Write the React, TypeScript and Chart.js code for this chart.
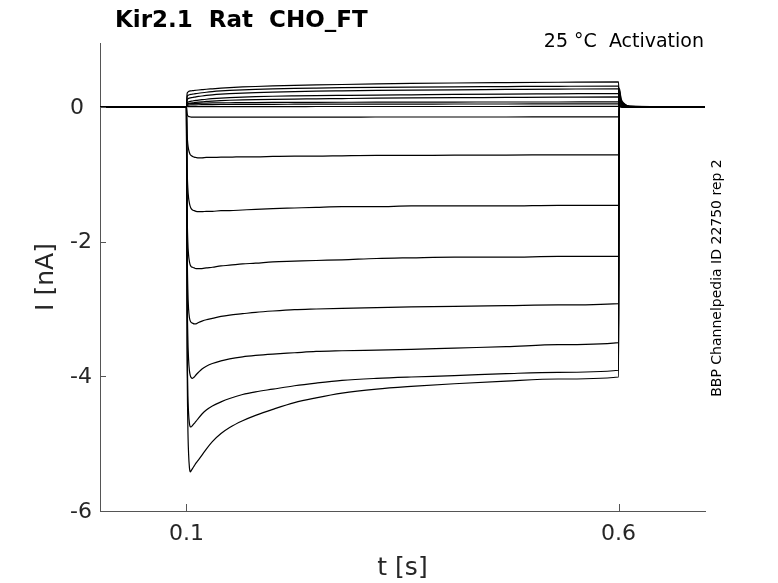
import React, { useEffect, useRef } from "react";
import { Chart, registerables } from "chart.js";

Chart.register(...registerables);

// time samples [s]
const times = [
  0, 0.1, 0.1008, 0.1016, 0.1025, 0.1035, 0.1045, 0.1055, 0.107, 0.109,
  0.111, 0.114, 0.118, 0.123, 0.13, 0.14, 0.15, 0.165, 0.18, 0.2,
  0.225, 0.25, 0.28, 0.32, 0.36, 0.41, 0.47, 0.53, 0.6, 0.6008,
  0.603, 0.607, 0.613, 0.7,
];

// current traces [nA], one per voltage step
const trace01 = [0, 0, 0.2, 0.22, 0.23, 0.235, 0.238, 0.24, 0.242, 0.245, 0.248, 0.252, 0.257, 0.263, 0.27, 0.28, 0.288, 0.297, 0.304, 0.312, 0.32, 0.327, 0.334, 0.342, 0.349, 0.356, 0.362, 0.367, 0.372, 0.03, 0.01, 0, 0, 0];
const trace02 = [0, 0, 0.15, 0.17, 0.178, 0.182, 0.185, 0.188, 0.19, 0.194, 0.198, 0.204, 0.211, 0.219, 0.228, 0.238, 0.246, 0.255, 0.262, 0.269, 0.276, 0.281, 0.286, 0.291, 0.295, 0.299, 0.303, 0.307, 0.31, 0.02, 0.005, 0, 0, 0];
const trace03 = [0, 0, 0.1, 0.12, 0.128, 0.132, 0.135, 0.138, 0.141, 0.145, 0.15, 0.156, 0.163, 0.171, 0.18, 0.19, 0.198, 0.207, 0.214, 0.221, 0.228, 0.234, 0.239, 0.245, 0.25, 0.255, 0.26, 0.265, 0.27, 0.02, 0.005, 0, 0, 0];
const trace04 = [0, 0, 0.06, 0.07, 0.076, 0.08, 0.083, 0.086, 0.089, 0.093, 0.097, 0.102, 0.108, 0.115, 0.123, 0.132, 0.139, 0.147, 0.153, 0.159, 0.164, 0.168, 0.172, 0.177, 0.181, 0.186, 0.191, 0.195, 0.2, 0.02, 0.005, 0, 0, 0];
const trace05 = [0, 0, 0.04, 0.048, 0.052, 0.055, 0.057, 0.059, 0.061, 0.064, 0.067, 0.071, 0.076, 0.082, 0.088, 0.095, 0.1, 0.106, 0.11, 0.114, 0.118, 0.121, 0.125, 0.13, 0.134, 0.138, 0.142, 0.146, 0.15, 0.02, 0.005, 0, 0, 0];
const trace06 = [0, 0, 0.03, 0.04, 0.045, 0.047, 0.048, 0.049, 0.05, 0.051, 0.052, 0.054, 0.056, 0.058, 0.06, 0.062, 0.063, 0.065, 0.066, 0.067, 0.068, 0.069, 0.07, 0.071, 0.072, 0.073, 0.074, 0.074, 0.075, 0.015, 0.004, 0, 0, 0];
const trace07 = [0, 0, 0.02, 0.026, 0.028, 0.029, 0.03, 0.03, 0.031, 0.031, 0.032, 0.033, 0.034, 0.035, 0.036, 0.037, 0.038, 0.039, 0.04, 0.04, 0.041, 0.042, 0.042, 0.043, 0.043, 0.044, 0.044, 0.045, 0.045, 0.012, 0.003, 0, 0, 0];
const trace08 = [0, 0, 0.003, 0.004, 0.004, 0.005, 0.005, 0.005, 0.005, 0.005, 0.005, 0.005, 0.005, 0.005, 0.006, 0.006, 0.006, 0.006, 0.006, 0.006, 0.006, 0.007, 0.007, 0.007, 0.007, 0.007, 0.007, 0.008, 0.008, 0.01, 0.003, 0, 0, 0];
const trace09 = [0, 0, -0.1, -0.13, -0.14, -0.145, -0.148, -0.15, -0.15, -0.151, -0.151, -0.152, -0.152, -0.152, -0.152, -0.152, -0.151, -0.151, -0.151, -0.15, -0.15, -0.15, -0.15, -0.149, -0.149, -0.149, -0.149, -0.148, -0.148, 0.02, 0.008, 0.003, 0, 0];
const trace10 = [0, 0, -0.4, -0.55, -0.63, -0.68, -0.71, -0.72, -0.735, -0.745, -0.75, -0.755, -0.755, -0.75, -0.75, -0.745, -0.745, -0.74, -0.74, -0.735, -0.73, -0.73, -0.725, -0.72, -0.72, -0.715, -0.715, -0.71, -0.71, 0.05, 0.02, 0.008, 0.002, 0];
const trace11 = [0, 0, -0.9, -1.2, -1.35, -1.43, -1.48, -1.51, -1.53, -1.54, -1.55, -1.555, -1.555, -1.55, -1.55, -1.54, -1.54, -1.53, -1.52, -1.51, -1.5, -1.49, -1.48, -1.48, -1.47, -1.47, -1.47, -1.46, -1.46, 0.09, 0.04, 0.014, 0.004, 0];
const trace12 = [0, 0, -1.5, -2.0, -2.2, -2.3, -2.35, -2.37, -2.38, -2.39, -2.4, -2.4, -2.4, -2.39, -2.38, -2.36, -2.35, -2.33, -2.32, -2.3, -2.29, -2.28, -2.27, -2.25, -2.24, -2.23, -2.23, -2.22, -2.22, 0.13, 0.055, 0.02, 0.005, 0];
const trace13 = [0, 0, -2.0, -2.7, -3.0, -3.13, -3.18, -3.2, -3.21, -3.22, -3.22, -3.2, -3.18, -3.16, -3.14, -3.11, -3.09, -3.07, -3.05, -3.03, -3.01, -3.0, -2.99, -2.98, -2.97, -2.96, -2.95, -2.94, -2.92, 0.17, 0.07, 0.025, 0.006, 0];
const trace14 = [0, 0, -2.6, -3.4, -3.75, -3.92, -3.99, -4.02, -4.03, -4.01, -3.98, -3.94, -3.89, -3.85, -3.81, -3.77, -3.74, -3.71, -3.69, -3.67, -3.65, -3.63, -3.62, -3.61, -3.6, -3.58, -3.56, -3.53, -3.5, 0.21, 0.085, 0.03, 0.008, 0];
const trace15 = [0, 0, -3.3, -4.2, -4.55, -4.7, -4.75, -4.75, -4.73, -4.7, -4.67, -4.62, -4.56, -4.5, -4.44, -4.38, -4.33, -4.27, -4.23, -4.19, -4.14, -4.1, -4.06, -4.03, -4.01, -3.99, -3.96, -3.94, -3.91, 0.25, 0.1, 0.038, 0.01, 0];
const trace16 = [0, 0, -3.6, -4.7, -5.15, -5.36, -5.42, -5.4, -5.37, -5.33, -5.29, -5.24, -5.17, -5.08, -4.97, -4.85, -4.76, -4.66, -4.58, -4.49, -4.39, -4.32, -4.25, -4.19, -4.15, -4.11, -4.07, -4.04, -4.01, 0.28, 0.12, 0.045, 0.012, 0];

const traces = [
  trace01, trace02, trace03, trace04, trace05, trace06, trace07, trace08,
  trace09, trace10, trace11, trace12, trace13, trace14, trace15, trace16,
];

const xTicks = [0.1, 0.6];
const yTicks = [0, -2, -4, -6];

const titleText = "Kir2.1  Rat  CHO_FT";
const conditionText = "25 °C  Activation";
const sourceText = "BBP Channelpedia ID 22750 rep 2";
const xTitle = "t [s]";
const yTitle = "I [nA]";

const FONT = "DejaVu Sans";
const AXIS_COLOR = "#555555";
const TEXT_COLOR = "#262626";

const decorPlugin = {
  id: "decor",
  afterDraw(chart: any) {
    const { ctx, chartArea, scales } = chart;
    ctx.save();
    ctx.strokeStyle = AXIS_COLOR;
    ctx.lineWidth = 1;
    yTicks.forEach((v) => {
      const y = Math.round(scales.y.getPixelForValue(v)) + 0.5;
      ctx.beginPath();
      ctx.moveTo(chartArea.left, y);
      ctx.lineTo(chartArea.left + 6, y);
      ctx.stroke();
    });
    xTicks.forEach((v) => {
      const x = Math.round(scales.x.getPixelForValue(v)) + 0.5;
      ctx.beginPath();
      ctx.moveTo(x, chartArea.bottom);
      ctx.lineTo(x, chartArea.bottom - 7);
      ctx.stroke();
    });

    ctx.fillStyle = "#000000";
    ctx.textBaseline = "alphabetic";
    ctx.textAlign = "left";
    ctx.font = `bold 23px "${FONT}"`;
    ctx.fillText(titleText, 115, 27);

    ctx.textAlign = "right";
    ctx.font = `19px "${FONT}"`;
    ctx.fillText(conditionText, chartArea.right - 1, 47);

    ctx.translate(721, 278);
    ctx.rotate(-Math.PI / 2);
    ctx.textAlign = "center";
    ctx.font = `14px "${FONT}"`;
    ctx.fillText(sourceText, 0, 0);
    ctx.restore();
  },
};

export default function App() {
  const canvasRef = useRef<HTMLCanvasElement | null>(null);

  useEffect(() => {
    if (!canvasRef.current) return;
    Chart.defaults.font.family = FONT;
    const chart = new Chart(canvasRef.current, {
      type: "line",
      data: {
        datasets: traces.map((vals) => ({
          data: times.map((t, i) => ({ x: t, y: vals[i] })),
          borderColor: "#000000",
          borderWidth: 1.2,
          pointRadius: 0,
          fill: false,
          cubicInterpolationMode: "monotone" as const,
        })),
      },
      options: {
        animation: false,
        responsive: false,
        maintainAspectRatio: false,
        layout: { padding: { left: 70, right: 73, top: 43, bottom: 0 } },
        plugins: {
          legend: { display: false },
          tooltip: { enabled: false },
          title: { display: false },
        },
        scales: {
          x: {
            type: "linear",
            min: 0,
            max: 0.7,
            afterBuildTicks: (s: any) => {
              s.ticks = xTicks.map((v) => ({ value: v }));
            },
            afterFit: (s: any) => {
              s.height = 72;
            },
            grid: { display: false, drawTicks: false },
            border: { display: true, color: AXIS_COLOR, width: 1 },
            ticks: {
              color: TEXT_COLOR,
              font: { family: FONT, size: 22 },
              padding: 10,
              maxRotation: 0,
              autoSkip: false,
              callback: (v: any) => String(v),
            },
            title: {
              display: true,
              text: xTitle,
              color: TEXT_COLOR,
              font: { family: FONT, size: 25 },
              padding: { top: 0, bottom: 0 },
            },
          },
          y: {
            type: "linear",
            min: -6,
            max: 0.95,
            afterBuildTicks: (s: any) => {
              s.ticks = yTicks.map((v) => ({ value: v }));
            },
            afterFit: (s: any) => {
              s.width = 30;
            },
            grid: { display: false, drawTicks: false },
            border: { display: true, color: AXIS_COLOR, width: 1 },
            ticks: {
              color: TEXT_COLOR,
              font: { family: FONT, size: 22 },
              padding: 7,
              crossAlign: "far",
              labelOffset: 1,
              autoSkip: false,
              callback: (v: any) => String(v),
            },
            title: {
              display: true,
              text: yTitle,
              color: TEXT_COLOR,
              font: { family: FONT, size: 25 },
              padding: { top: -39, bottom: 0 },
            },
          },
        },
      },
      plugins: [decorPlugin],
    } as any);
    return () => chart.destroy();
  }, []);

  return (
    <div
      style={{
        position: "fixed",
        left: 0,
        top: 0,
        width: 778,
        height: 583,
        background: "#ffffff",
      }}
    >
      <canvas
        ref={canvasRef}
        width={778}
        height={583}
        style={{ display: "block", width: 778, height: 583 }}
      />
    </div>
  );
}
